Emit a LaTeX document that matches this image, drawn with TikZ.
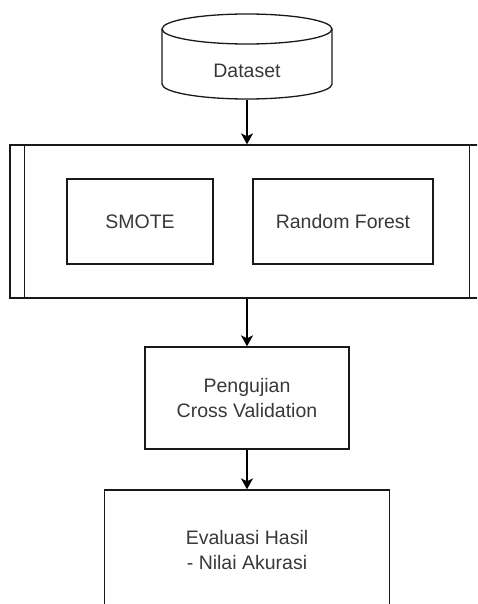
\documentclass[tikz,border=0pt]{standalone}
\usepackage{fontspec}
\setmainfont{Liberation Sans}
\usetikzlibrary{arrows.meta,positioning}

\def\lineColor{black!90}
\def\textColor{black!78}

\begin{document}
\begin{tikzpicture}[x=1pt,y=-1pt,
    box/.style={draw=\lineColor, line width=1.3pt, text=\textColor, align=center,
        inner sep=0pt, font=\fontsize{19.5}{25}\selectfont},
    plain/.style={box, draw=none},
    arrow/.style={draw=black, line width=1.3pt, -{Stealth[length=11pt,width=12pt,inset=3pt]}}]
    % Define parameters
    \def\xmid{247}
    \def\rx{85}

    \useasboundingbox (0,0) rectangle (477,604);
    \clip (0,0) rectangle (477,604);

    % dataset cylinder
    \node[plain, minimum width=170, minimum height=56] (data) at (\xmid,71) {Dataset};
    \draw[\lineColor, line width=1.3pt] (\xmid,29) ellipse[x radius=\rx, y radius=15];
    \draw[\lineColor, line width=1.3pt] (162,29) -- (162,84)
        arc[start angle=180, end angle=0, x radius=\rx, y radius=15] -- (332,29);

    % predefined process
    \node[box, minimum width=474, minimum height=153] (proc) at (\xmid,221.5) {};
    \draw[\lineColor, line width=1.3pt] ([xshift=15]proc.north west) -- ([xshift=15]proc.south west);
    \draw[\lineColor, line width=1.3pt] ([xshift=-15]proc.north east) -- ([xshift=-15]proc.south east);
    \node[box, minimum width=146, minimum height=85] (smote) at (140,221.5) {SMOTE};
    \node[box, minimum width=180, minimum height=85] (rf) at (343,221.5) {Random Forest};

    \node[box, minimum width=204, minimum height=102] (test) at (\xmid,398) {Pengujian\\Cross Validation};
    \node[box, minimum width=285, minimum height=120] (eval) at (\xmid,550) {Evaluasi Hasil\\- Nilai Akurasi};

    \draw[arrow] (data) -- (proc);
    \draw[arrow] (proc) -- (test);
    \draw[arrow] (test) -- (eval);
\end{tikzpicture}
\end{document}
